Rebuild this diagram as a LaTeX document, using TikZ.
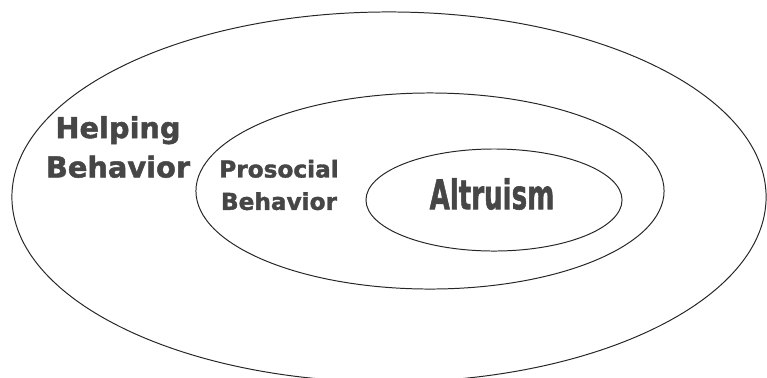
\documentclass[tikz,border=0pt]{standalone}
\usepackage{fontspec}
\setmainfont{DejaVu Sans}
\newfontfamily\heavyfont{DejaVu Sans}[BoldFeatures={FakeBold=1.6}]
\usepackage{graphicx}
\usepackage{xcolor}
\usepackage{tikz}
\usetikzlibrary{shapes.geometric}

\definecolor{labelgray}{RGB}{70,70,70}

\begin{document}
\begin{tikzpicture}[x=0.025cm, y=-0.025cm,
    ring/.style={draw=black!85, ellipse, line width=0.7pt, inner sep=0pt},
    tag/.style={text=labelgray, align=center, inner sep=0pt}]
    \useasboundingbox (0,0) rectangle (767,377);
    \clip (0,0) rectangle (767,377);

    \node[ring, minimum width=18.85cm, minimum height=9.25cm] (outer) at (389,197) {};
    \node[ring, minimum width=11.7cm, minimum height=4.9cm] (middle) at (430,191) {};
    \node[ring, minimum width=6.4cm, minimum height=2.55cm] (inner) at (494,200) {};

    \node[tag, font=\heavyfont\bfseries\fontsize{20.5}{28}\selectfont] (helping) at (118,147) {Helping\\Behavior};
    \node[tag, font=\heavyfont\bfseries\fontsize{16.5}{23}\selectfont] (prosocial) at (279,185) {Prosocial\\Behavior};
    \node[tag] (altruism) at (492,194) {\scalebox{0.64}[1]{\heavyfont\bfseries\fontsize{29}{32}\selectfont Altruism}};
\end{tikzpicture}
\end{document}
